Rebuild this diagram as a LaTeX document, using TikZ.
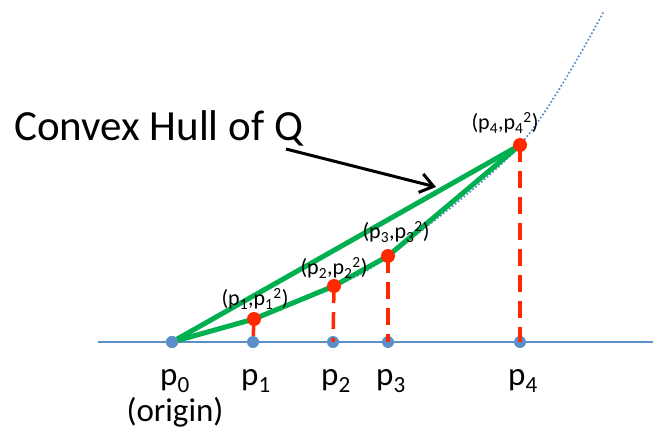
\documentclass[tikz,border=0pt]{standalone}
\usepackage{fontspec}
\setmainfont{Carlito}
\usetikzlibrary{arrows.meta}
\definecolor{hullgreen}{RGB}{0,176,80}
\definecolor{ptred}{RGB}{255,40,0}
\definecolor{axisblue}{RGB}{91,143,201}
\tikzset{
  bluedot/.style={circle,fill=axisblue,inner sep=0pt,minimum size=12pt},
  reddot/.style={circle,fill=ptred,inner sep=0pt,minimum size=14pt},
  hull/.style={draw=hullgreen,line width=5pt,line join=round,line cap=round},
  drop/.style={draw=ptred,line width=3.5pt,dash pattern=on 17pt off 9pt},
  axislbl/.style={font=\fontsize{33}{35}\selectfont,inner sep=0pt},
  ptlbl/.style={font=\fontsize{22}{24}\selectfont,inner sep=0pt},
}
\begin{document}
\begin{tikzpicture}[x=1pt,y=-1pt]
\useasboundingbox (0,0) rectangle (653,428);
% axis
\coordinate (axL) at (98,342);
\coordinate (axR) at (653,342);
\draw[axisblue,line width=1.6pt] (axL) -- (axR);
% curve
\coordinate (cend) at (604,11);
\draw[axisblue,line width=2.4pt,line cap=round,dash pattern=on 0pt off 3.8pt] plot[smooth,tension=0.55] coordinates {(172,342) (254,319) (334,286) (388,256) (520,145) (604,11)};
% axis points
\node[bluedot] (p0) at (172,342) {};
\node[bluedot] (p1) at (253,342) {};
\node[bluedot] (p2) at (333,342) {};
\node[bluedot] (p3) at (388,342) {};
\node[bluedot] (p4) at (520,342) {};
% lifted points
\coordinate (q1) at (254,319);
\coordinate (q2) at (334,286);
\coordinate (q3) at (388,256);
\coordinate (q4) at (520,145);
% drops
\draw[drop] (q1) -- (p1.center);
\draw[drop] (q2) -- (p2.center);
\draw[drop] (q3) -- (p3.center);
\draw[drop] (q4) -- (p4.center);
% hull
\draw[hull] (p0.center) -- (q4);
\draw[hull] (p0.center) -- (q1) -- (q2) -- (q3) -- (q4);
\node[bluedot] at (p0) {};
\node[reddot] (r1) at (q1) {};
\node[reddot] (r2) at (q2) {};
\node[reddot] (r3) at (q3) {};
\node[reddot] (r4) at (q4) {};
% point labels
\node[ptlbl] (l1) at (255,299) {(p\textsubscript{1},p\textsubscript{1}\textsuperscript{2})};
\node[ptlbl] (l2) at (334,268) {(p\textsubscript{2},p\textsubscript{2}\textsuperscript{2})};
\node[ptlbl] (l3) at (396,232) {(p\textsubscript{3},p\textsubscript{3}\textsuperscript{2})};
\node[ptlbl] (l4) at (505,123) {(p\textsubscript{4},p\textsubscript{4}\textsuperscript{2})};
% axis labels
\node[axislbl] (t0) at (175,381) {p\textsubscript{0}};
\node[axislbl] (t1) at (256,381) {p\textsubscript{1}};
\node[axislbl] (t2) at (336,381) {p\textsubscript{2}};
\node[axislbl] (t3) at (391,381) {p\textsubscript{3}};
\node[axislbl] (t4) at (523,381) {p\textsubscript{4}};
\node[axislbl] (orig) at (175,412) {(origin)};
% title and arrow
\node[font=\fontsize{43}{45}\selectfont,inner sep=0pt,anchor=base west] (title) at (14,140) {Convex Hull of Q};
\coordinate (arrS) at (286,149);
\coordinate (arrE) at (436,187);
\draw[line width=3pt,-{Straight Barb[length=13pt,width=19pt]}] (arrS) -- (arrE);
\end{tikzpicture}
\end{document}
